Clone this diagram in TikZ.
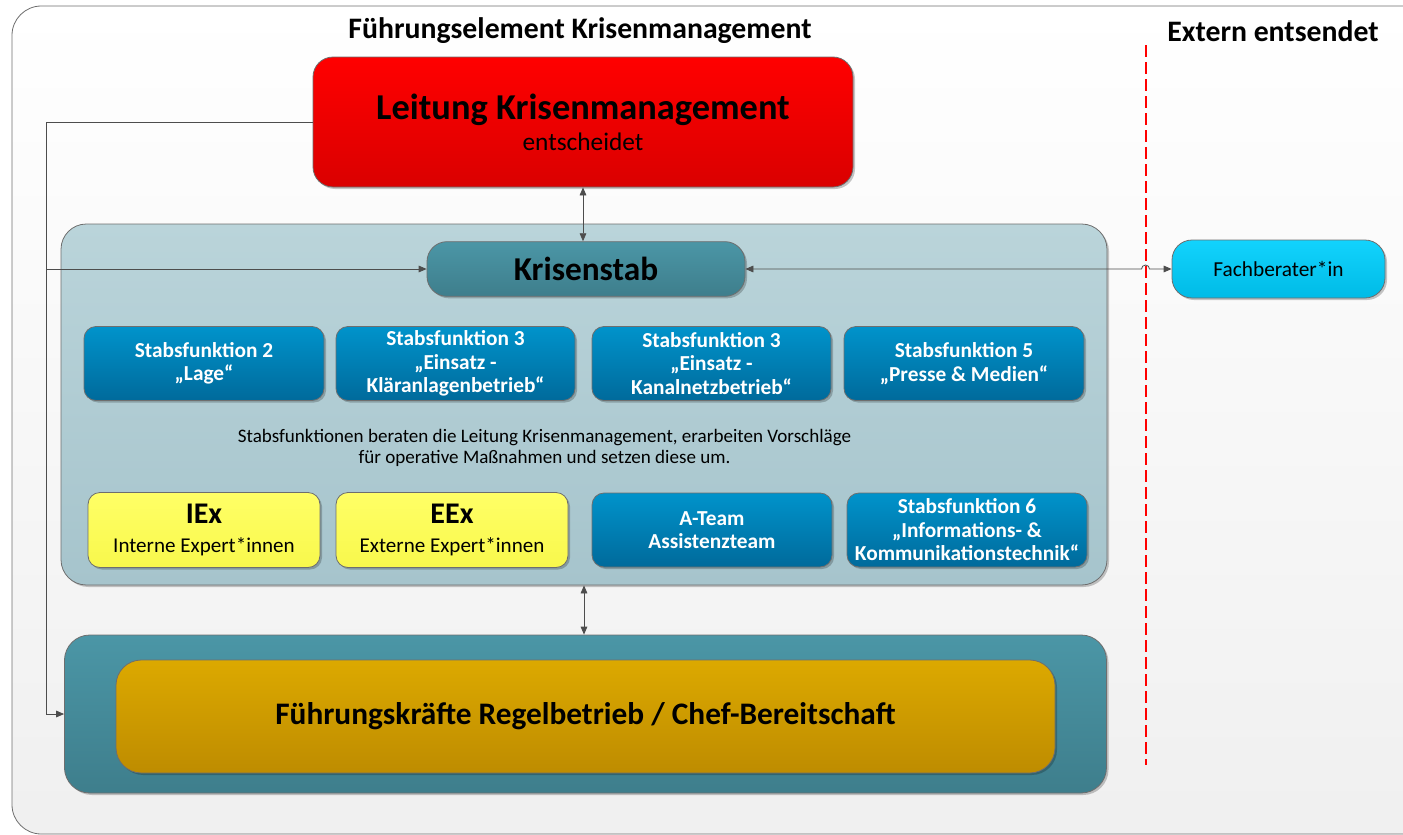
\documentclass[tikz,border=0pt]{standalone}
\usepackage{fontspec}
\setmainfont{Carlito}
\usetikzlibrary{arrows.meta,shadows}
\definecolor{sfTop}{HTML}{0093CB}
\definecolor{sfBot}{HTML}{006A9B}
\definecolor{tealTop}{HTML}{4B96A6}
\definecolor{tealBot}{HTML}{3E7E8C}
\definecolor{contTop}{HTML}{BAD4DA}
\definecolor{contBot}{HTML}{A6C4CC}
\definecolor{redTop}{HTML}{FF0000}
\definecolor{redBot}{HTML}{DA0000}
\definecolor{goldTop}{HTML}{DCA900}
\definecolor{goldBot}{HTML}{BE8C00}
\definecolor{cyanTop}{HTML}{12D3FD}
\definecolor{cyanBot}{HTML}{00BBE6}
\definecolor{yelTop}{HTML}{FFFF66}
\definecolor{yelBot}{HTML}{F8F84C}
\definecolor{lineGray}{HTML}{4D4D4D}
\definecolor{frameGray}{HTML}{6E6E6E}
\tikzset{
  shadowed/.style={drop shadow={shadow xshift=1.5pt,shadow yshift=-1.5pt,opacity=0.22,fill=black}},
  basebox/.style={draw=frameGray, line width=0.6pt, inner sep=0pt, align=center, shadowed},
  sfbox/.style={basebox, rounded corners=9pt, top color=sfTop, bottom color=sfBot,
    text=white, font=\bfseries\fontsize{16}{17.6}\selectfont,
    minimum width=180pt, minimum height=55.5pt},
  yelbox/.style={basebox, rounded corners=9pt, top color=yelTop, bottom color=yelBot,
    minimum width=174pt, minimum height=56.25pt, font=\fontsize{15.8}{21.5}\selectfont},
  conn/.style={draw=lineGray, line width=0.6pt},
  arr/.style={conn, -{Triangle[length=6pt,width=5pt]}},
  darr/.style={conn, {Triangle[length=6pt,width=5pt]}-{Triangle[length=6pt,width=5pt]}},
  heading/.style={font=\bfseries\fontsize{22.3}{26}\selectfont, inner sep=0pt}
}
\begin{document}
\begin{tikzpicture}[x=0.75pt,y=-0.75pt]
\useasboundingbox (0,0) rectangle (1403,835);
\begin{scope}
  \clip (0,0) rectangle (1403,835);
  \path[draw=frameGray, line width=0.6pt, top color=white, bottom color=black!6, rounded corners=22pt]
    (12,6) rectangle (1440,834);
\end{scope}

% headings
\node[heading] (t1) at (580,31) {Führungselement Krisenmanagement};
\node[heading] (t2) at (1273,31) {Extern entsendet};

% dashed separator
\coordinate (dtop) at (1145.5,45);
\coordinate (dbot) at (1145.5,765);
\draw[red, line width=1.5pt, dash pattern=on 9pt off 3.75pt] (dtop) -- (dbot);

% Leitung
\node[basebox, rounded corners=15pt, top color=redTop, bottom color=redBot,
      minimum width=405pt, minimum height=97.5pt, font=\fontsize{19}{23.5}\selectfont] (rb) at (583,122)
  {{\bfseries\fontsize{27.3}{32}\selectfont Leitung Krisenmanagement}\\
   entscheidet};

% Krisenstab container
\node[basebox, rounded corners=19pt, top color=contTop, bottom color=contBot,
      minimum width=784.5pt, minimum height=270.75pt] (cont) at (584,404.5) {};

% Krisenstab
\node[basebox, rounded corners=15pt, top color=tealTop, bottom color=tealBot,
      minimum width=238.5pt, minimum height=41pt,
      font=\bfseries\fontsize{25}{29}\selectfont] (ks) at (586,269) {Krisenstab};

% Fachberater
\node[basebox, rounded corners=15pt, top color=cyanTop, bottom color=cyanBot,
      minimum width=159.75pt, minimum height=43.5pt,
      font=\fontsize{16}{19}\selectfont] (fach) at (1278.5,269) {Fachberater*in};

% row 1
\node[sfbox] (b1) at (204,363.5) {Stabsfunktion 2\\„Lage“};
\node[sfbox, minimum width=179.25pt] (b2) at (455.5,363.5) {Stabsfunktion 3\\„Einsatz -\\Kläranlagenbetrieb“};
\node[sfbox, minimum width=179.25pt] (b3) at (711.5,363.5) {Stabsfunktion 3\\„Einsatz -\\Kanalnetzbetrieb“};
\node[sfbox] (b4) at (964,363.5) {Stabsfunktion 5\\„Presse \& Medien“};

% description
\node[align=center, inner sep=0pt, font=\fontsize{14.3}{15.75}\selectfont] (desc) at (544.5,447.5)
  {Stabsfunktionen beraten die Leitung Krisenmanagement, erarbeiten Vorschläge\\
   für operative Maßnahmen und setzen diese um.};

% row 2
\node[yelbox] (iex) at (204,530)
  {{\bfseries\fontsize{22.5}{25}\selectfont IEx}\\Interne Expert*innen};
\node[yelbox] (eex) at (452,530)
  {{\bfseries\fontsize{22.5}{25}\selectfont EEx}\\Externe Expert*innen};
\node[sfbox, minimum height=55.5pt] (ateam) at (712,530) {A-Team\\Assistenzteam};
\node[sfbox, minimum height=55.5pt] (sf6) at (967,530) {Stabsfunktion 6\\„Informations- \&\\Kommunikationstechnik“};

% bottom container
\node[basebox, rounded corners=19pt, top color=tealTop, bottom color=tealBot,
      minimum width=781.5pt, minimum height=118.5pt] (bc) at (585.5,714) {};
\node[basebox, rounded corners=19pt, top color=goldTop, bottom color=goldBot,
      minimum width=704.25pt, minimum height=84.75pt,
      font=\bfseries\fontsize{23.5}{27}\selectfont] (gold) at (585.5,716.5)
  {Führungskräfte Regelbetrieb / Chef-Bereitschaft};

% connectors
\draw[darr] (rb.south) -- (rb.south |- ks.north);
\draw[darr] (cont.south) -- (cont.south |- bc.north);
\coordinate (lt) at (46,122);
\coordinate (lm) at (46,269);
\coordinate (lb) at (46,714);
\draw[arr] (rb.west) -- (lt) -- (lb) -- (bc.west);
\draw[arr] (lm) -- (ks.west);
\coordinate (hop) at (1149.5,269);
\draw[darr] (fach.west) -- (hop) arc[start angle=0, end angle=180, radius=3pt] -- (ks.east);
\end{tikzpicture}
\end{document}
